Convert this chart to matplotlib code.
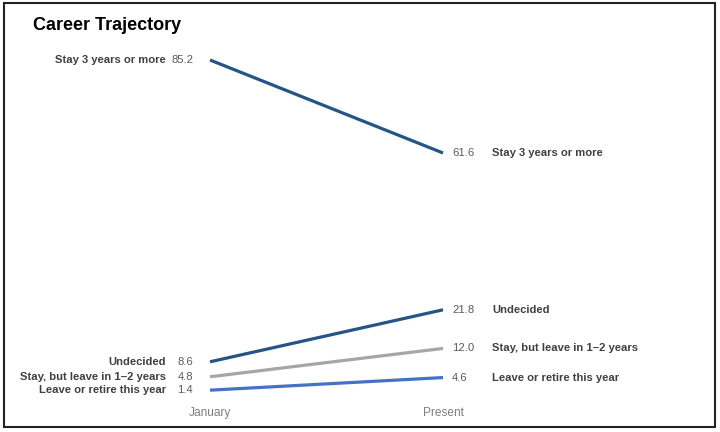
import matplotlib

matplotlib.use("Agg")
import matplotlib.pyplot as plt
from matplotlib.patches import Rectangle

plt.rcParams["font.family"] = ["Liberation Sans", "DejaVu Sans"]

periods = ["January", "Present"]
series = [
    "Stay 3 years or more",
    "Undecided",
    "Stay, but leave in 1\u20132 years",
    "Leave or retire this year",
]
january = [85.2, 8.6, 4.8, 1.4]
present = [61.6, 21.8, 12.0, 4.6]
colors = ["#245488", "#245488", "#a6a6a6", "#4472c4"]

W, H = 720, 432
fig = plt.figure(figsize=(W / 100, H / 100), dpi=100)
ax = fig.add_axes([0, 0, 1, 1])

# map data so January sits at x=210px, Present at x=443px
px_per_x = 233
ax.set_xlim(-210 / px_per_x, (W - 210) / px_per_x)
px_per_v = 3.94
ax.set_ylim(85.2 - (H - 60) / px_per_v, 85.2 + 60 / px_per_v)
ax.axis("off")

name_col = "#404040"
val_col = "#595959"
fs = 8.1

for name, a, b, c in zip(series, january, present, colors):
    ax.plot([0, 1], [a, b], color=c, linewidth=2.3, solid_capstyle="butt")
    ax.annotate(f"{a:.1f}", (0, a), xytext=(-17, 0), textcoords="offset pixels",
                ha="right", va="center", fontsize=fs, color=val_col)
    ax.annotate(name, (0, a), xytext=(-44, 0), textcoords="offset pixels",
                ha="right", va="center", fontsize=fs, color=name_col, fontweight="bold")
    ax.annotate(f"{b:.1f}", (1, b), xytext=(9, 0), textcoords="offset pixels",
                ha="left", va="center", fontsize=fs, color=val_col)
    ax.annotate(name, (1, b), xytext=(49, 0), textcoords="offset pixels",
                ha="left", va="center", fontsize=fs, color=name_col, fontweight="bold")

for i, p in enumerate(periods):
    ax.annotate(p, (i, ax.get_ylim()[0]), xytext=(0, 19), textcoords="offset pixels",
                ha="center", va="center", fontsize=8.6, color="#7f7f7f")

fig.text(33 / W, 1 - 25 / H, "Career Trajectory", fontsize=13, fontweight="bold",
         ha="left", va="center", color="black")

fig.patches.append(Rectangle((4 / W, 1 - 427 / H), 711 / W, 424 / H,
                             transform=fig.transFigure, fill=False,
                             edgecolor="#222222", linewidth=1.5))

fig.savefig("out.png", dpi=100)
